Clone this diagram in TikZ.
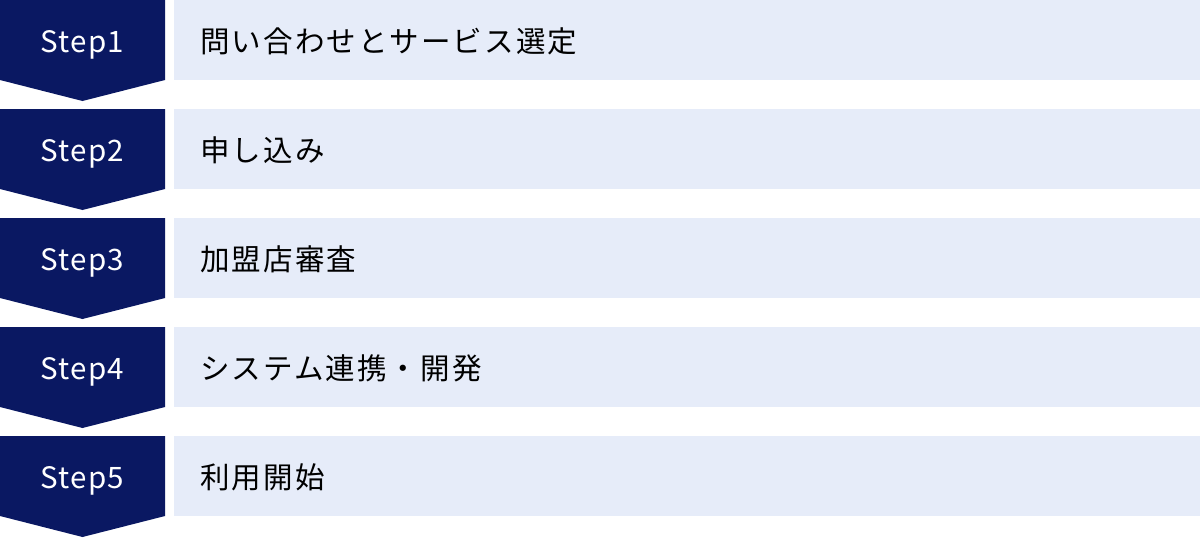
\documentclass[tikz,border=0pt]{standalone}
\usepackage{fontspec}
\usepackage{xcolor}
\usepackage{tikz}
\newfontfamily\jpfont{Noto Sans CJK JP}[LetterSpace=7]
\newfontfamily\stepfont{Noto Sans CJK JP}[LetterSpace=4]
\definecolor{Navy}{HTML}{0A1862}
\definecolor{Pale}{HTML}{E6ECF9}
\tikzset{
  chevron/.style={fill=Navy},
  taskbar/.style={fill=Pale},
  steplabel/.style={anchor=base, text=white, inner sep=0pt, font=\stepfont\fontsize{21}{24}\selectfont},
  tasklabel/.style={anchor=base west, inner sep=0pt, text=black, font=\jpfont\fontsize{21}{25}\selectfont}
}

\begin{document}
\begin{tikzpicture}%
\useasboundingbox (0,0) rectangle (30.000000, -13.450000);%
% Step1
\fill[chevron] (0,0) -- (4.125000, 0) -- (4.125000, -2.000000) -- (2.062500, -2.525000) -- (0, -2.000000) -- cycle;%
\fill[taskbar] (4.350000, 0) rectangle (30.000000, -2.000000);%
\node[steplabel] (step1) at (2.062500, -1.312500) {Step1};%
\node[tasklabel] (task1) at (5.000000, -1.300000) {問い合わせとサービス選定};%
% Step2
\fill[chevron] (0,-2.725000) -- (4.125000, -2.725000) -- (4.125000, -4.725000) -- (2.062500, -5.250000) -- (0, -4.725000) -- cycle;%
\fill[taskbar] (4.350000, -2.725000) rectangle (30.000000, -4.725000);%
\node[steplabel] (step2) at (2.062500, -4.037500) {Step2};%
\node[tasklabel] (task2) at (5.000000, -4.025000) {申し込み};%
% Step3
\fill[chevron] (0,-5.450000) -- (4.125000, -5.450000) -- (4.125000, -7.450000) -- (2.062500, -7.975000) -- (0, -7.450000) -- cycle;%
\fill[taskbar] (4.350000, -5.450000) rectangle (30.000000, -7.450000);%
\node[steplabel] (step3) at (2.062500, -6.762500) {Step3};%
\node[tasklabel] (task3) at (5.000000, -6.750000) {加盟店審査};%
% Step4
\fill[chevron] (0,-8.175000) -- (4.125000, -8.175000) -- (4.125000, -10.175000) -- (2.062500, -10.700000) -- (0, -10.175000) -- cycle;%
\fill[taskbar] (4.350000, -8.175000) rectangle (30.000000, -10.175000);%
\node[steplabel] (step4) at (2.062500, -9.487500) {Step4};%
\node[tasklabel] (task4) at (5.000000, -9.475000) {システム連携・開発};%
% Step5
\fill[chevron] (0,-10.900000) -- (4.125000, -10.900000) -- (4.125000, -12.900000) -- (2.062500, -13.425000) -- (0, -12.900000) -- cycle;%
\fill[taskbar] (4.350000, -10.900000) rectangle (30.000000, -12.900000);%
\node[steplabel] (step5) at (2.062500, -12.212500) {Step5};%
\node[tasklabel] (task5) at (5.000000, -12.200000) {利用開始};%
\end{tikzpicture}
\end{document}
